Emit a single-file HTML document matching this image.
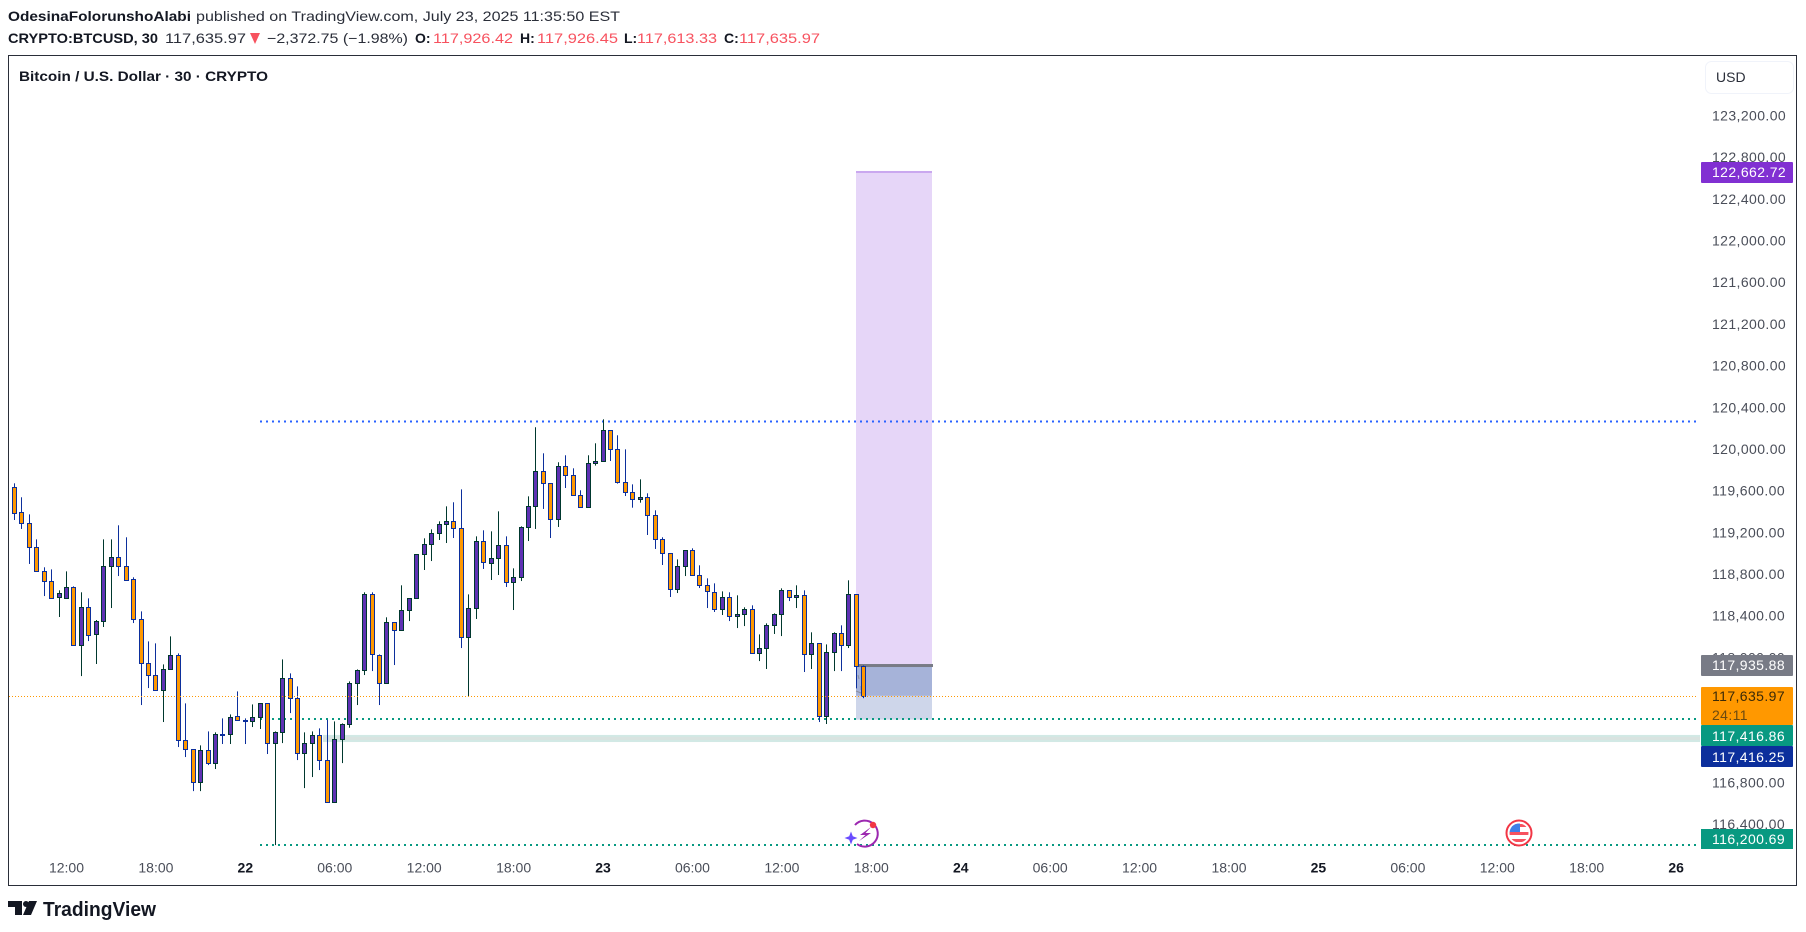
<!DOCTYPE html>
<html lang="en">
<head>
<meta charset="utf-8">
<title>BTCUSD chart</title>
<style>
html,body{margin:0;padding:0;background:#fff;width:1806px;height:932px;overflow:hidden}
svg{display:block;font-family:"Liberation Sans",sans-serif}
</style>
</head>
<body>
<svg id="chart" xmlns="http://www.w3.org/2000/svg" width="1806" height="932" viewBox="0 0 1806 932">
  <rect x="0" y="0" width="1806" height="932" fill="#ffffff"/>

  <g font-size="14" fill="#2a2e39">
    <text x="8" y="21" font-weight="bold" fill="#131722" textLength="183" lengthAdjust="spacingAndGlyphs">OdesinaFolorunshoAlabi</text>
    <text x="196" y="21" textLength="424" lengthAdjust="spacingAndGlyphs">published on TradingView.com, July 23, 2025 11:35:50 EST</text>
  </g>
  <g font-size="14" fill="#2a2e39">
    <text x="8" y="43" font-weight="bold" fill="#131722" textLength="150" lengthAdjust="spacingAndGlyphs">CRYPTO:BTCUSD, 30</text>
    <text x="165" y="43" textLength="81" lengthAdjust="spacingAndGlyphs">117,635.97</text>
    <polygon points="250,33 260,33 255,44" fill="#f7525f"/>
    <text x="267" y="43" textLength="141" lengthAdjust="spacingAndGlyphs">−2,372.75 (−1.98%)</text>
    <text x="415" y="43" font-weight="bold" fill="#131722">O:</text>
    <text x="433" y="43" fill="#f7525f" textLength="80" lengthAdjust="spacingAndGlyphs">117,926.42</text>
    <text x="520" y="43" font-weight="bold" fill="#131722">H:</text>
    <text x="537" y="43" fill="#f7525f" textLength="81" lengthAdjust="spacingAndGlyphs">117,926.45</text>
    <text x="624" y="43" font-weight="bold" fill="#131722">L:</text>
    <text x="637" y="43" fill="#f7525f" textLength="80" lengthAdjust="spacingAndGlyphs">117,613.33</text>
    <text x="724" y="43" font-weight="bold" fill="#131722">C:</text>
    <text x="739" y="43" fill="#f7525f" textLength="81" lengthAdjust="spacingAndGlyphs">117,635.97</text>
  </g>

  <rect x="8.5" y="55.5" width="1788" height="830" fill="none" stroke="#2a2e39" stroke-width="1"/>
  <text x="19" y="81" font-size="14" font-weight="bold" fill="#131722" textLength="249" lengthAdjust="spacingAndGlyphs">Bitcoin / U.S. Dollar · 30 · CRYPTO</text>

  <g id="drawings"></g>
  <g stroke="#8a8f9e" stroke-width="1" fill="none">
    <path d="M858 675 L859 679"/>
    <path d="M861 686 L861 690"/>
    <path d="M856 691 L861 693"/>
  </g>
  <g id="candles"></g>
  <g id="overlay"></g>

  <g id="priceAxis" font-size="14" fill="#4a4e59"></g>
  <g id="timeAxis" font-size="14"></g>

  <g>
    <rect x="1705.5" y="61.5" width="88" height="32" rx="6" fill="#ffffff" stroke="#f0f3fa"/>
    <text x="1716" y="82" font-size="14" fill="#2a2e39">USD</text>
  </g>

  <g font-size="14" fill="#ffffff" letter-spacing="0.4">
    <g>
      <rect x="1701" y="162" width="92" height="21" rx="1" fill="#8130d2"/>
      <text x="1712" y="177">122,662.72</text>
    </g>
    <g>
      <rect x="1701" y="655" width="92" height="21" rx="1" fill="#787b86"/>
      <text x="1712" y="670">117,935.88</text>
    </g>
    <g>
      <rect x="1701" y="687" width="92" height="38" rx="1" fill="#ff9800"/>
      <text x="1712" y="701" fill="#3a2a08">117,635.97</text>
      <text x="1712" y="720" fill="#6b4a10">24:11</text>
    </g>
    <g>
      <rect x="1701" y="725" width="92" height="21" rx="1" fill="#089981"/>
      <text x="1712" y="741">117,416.86</text>
    </g>
    <g>
      <rect x="1701" y="746" width="92" height="21" rx="1" fill="#0c2f9c"/>
      <text x="1712" y="762">117,416.25</text>
    </g>
    <g>
      <rect x="1701" y="829" width="92" height="20" fill="#089981"/>
      <text x="1712" y="844">116,200.69</text>
    </g>
  </g>

  <g>
    <path d="M855 825 A13 13 0 1 1 857 844" fill="none" stroke="#9c27b0" stroke-width="2"/>
    <path d="M871 827 L860 835 L865.5 835 L859 841 L871 833 L865.5 833 Z" fill="#9c27b0"/>
    <circle cx="873" cy="825" r="3.2" fill="#f23645"/>
    <path d="M851 831.5 L852.8 836.2 L857.5 838 L852.8 839.8 L851 844.5 L849.2 839.8 L844.5 838 L849.2 836.2 Z" fill="#6a4cff"/>
  </g>

  <g>
    <circle cx="1519" cy="833" r="12.5" fill="#ffffff" stroke="#f23645" stroke-width="2"/>
    <clipPath id="flagClip"><circle cx="1519" cy="833" r="9.5"/></clipPath>
    <g clip-path="url(#flagClip)">
      <rect x="1509" y="823" width="20" height="20" fill="#ffffff"/>
      <rect x="1509" y="824" width="20" height="3" fill="#f7525f"/>
      <rect x="1509" y="832" width="20" height="3" fill="#f7525f"/>
      <rect x="1509" y="839" width="20" height="3" fill="#f7525f"/>
      <rect x="1509" y="823" width="11" height="9" fill="#3f7fe8"/>
    </g>
  </g>

  <g>
    <path d="M8 901 H22 V915 H15 V907 H8 Z M37 901 L31 915 H23 L29 901 Z" fill="#131722"/>
    <circle cx="26" cy="904" r="3" fill="#131722"/>
    <text x="43" y="916" font-size="20" font-weight="bold" fill="#131722" textLength="113" lengthAdjust="spacingAndGlyphs">TradingView</text>
  </g>
</svg>

<script>
const opens = [119637,119397,119291,119061,118830,118734,118581,118574,118677,118120,118485,118225,118350,118878,118965,118878,118753,118369,117947,117832,117688,117889,118024,117208,117121,116805,117112,116987,117265,117265,117438,117400,117390,117429,117563,117179,117285,117803,117611,117083,117179,117256,117016,116613,117217,117361,117755,117880,118609,118024,117755,118341,118264,118456,118571,118993,119089,119195,119281,119310,119243,118197,118475,119118,118907,118955,119080,118725,118773,119253,119454,119790,119675,119329,119838,119752,119560,119445,119867,119886,120184,120001,119685,119589,119521,119541,119368,119137,119003,118657,118878,119032,118792,118696,118629,118465,118581,118398,118417,118465,118043,118091,118312,118417,118648,118581,118600,118033,118139,117438,118053,118235,118120,118609,117926];
const highs = [119675,119541,119377,119137,118869,118849,118648,118830,118686,118629,118571,118363,119137,119137,119272,119157,118773,118446,118158,118139,117937,118206,118043,117563,117121,117160,117294,117285,117419,117457,117678,117419,117553,117563,117563,117294,117985,117851,117726,117285,117294,117323,117406,117390,117371,117774,117889,118629,118629,118033,118389,118341,118696,118571,118993,119147,119233,119310,119454,119493,119617,118609,119166,119224,119214,119406,119166,118859,119262,119550,120213,119963,119675,119877,119944,119819,119608,119944,120059,120289,120184,120136,120001,119665,119713,119579,119416,119157,119003,118945,119032,119051,118888,118763,118715,118638,118629,118600,118485,118504,118225,118331,118427,118667,118648,118696,118648,118245,118139,118129,118245,118312,118744,118609,117926];
const lows = [119323,119237,118901,118830,118593,118565,118392,118574,118120,117825,118161,117941,118296,118478,118785,118744,118334,117547,117710,117688,117384,117889,117144,117048,116721,116721,116971,116933,117173,117173,117400,117173,117336,117317,117077,116203,117182,117470,117019,116750,116856,116923,116613,116613,116990,117329,117547,117835,117873,117547,117755,117931,118264,118353,118571,118843,118929,119131,119102,119150,118094,117630,118373,118853,118747,118795,118680,118459,118737,119121,119237,119429,119150,119256,119630,119560,119445,119445,119845,119886,119889,119672,119553,119441,119489,119179,119045,118891,118584,118622,118785,118792,118670,118478,118440,118411,118353,118286,118305,118043,117969,117893,118229,118209,118545,118478,117864,117893,117384,117365,117873,117873,118094,117707,117613];
const closes = [119393,119291,119061,118830,118734,118577,118619,118677,118120,118485,118216,118350,118878,118965,118878,118744,118369,117947,117832,117688,117889,118024,117208,117121,116805,117112,116987,117265,117262,117429,117400,117397,117429,117563,117179,117285,117803,117611,117083,117179,117256,117016,116613,117217,117361,117755,117880,118609,118033,117755,118341,118264,118456,118571,118993,119089,119195,119281,119310,119243,118197,118475,119118,118917,118955,119080,118725,118773,119253,119454,119790,119675,119329,119838,119752,119560,119445,119867,119886,120184,120001,119685,119589,119521,119541,119368,119137,119003,118657,118878,119032,118792,118696,118638,118465,118581,118398,118417,118465,118043,118091,118312,118417,118648,118581,118600,118033,118139,117438,118053,118235,118120,118609,117918,117636];

const priceTicks = [123200,122800,122400,122000,121600,121200,120800,120400,120000,119600,119200,118800,118400,118000,117600,117200,116800,116400];
const timeLabels = ["12:00","18:00","22","06:00","12:00","18:00","23","06:00","12:00","18:00","24","06:00","12:00","18:00","25","06:00","12:00","18:00","26"];
const dayLabels = ["22","23","24","25","26"];

const targetPrice = 122662.72;
const entryPrice = 117935.88;
const lastPrice = 117635.97;
const stopPrice = 117416.25;
const resistanceLevel = 120273;
const supportLevel = 117416.86;
const lowLevel = 116200.69;
const bandTop = 117260;
const bandBottom = 117192;

const NS = 'http://www.w3.org/2000/svg';
function yScale(p) { return 116 + (123200 - p) / 400 * 41.68; }
function xScale(i) { return 14.33 + 7.452 * i; }
function formatPrice(p) { return p.toLocaleString('en-US', {minimumFractionDigits: 2, maximumFractionDigits: 2}); }
function make(tag, parent, props) {
  const el = document.createElementNS(NS, tag);
  for (const k in props) el.setAttribute(k, props[k]);
  parent.appendChild(el);
  return el;
}

const drawings = document.getElementById('drawings');
const candles = document.getElementById('candles');
const overlay = document.getElementById('overlay');
const priceAxis = document.getElementById('priceAxis');
const timeAxis = document.getElementById('timeAxis');

const posLeft = 856, posWidth = 76;

const targetBox = make('rect', drawings, {x: posLeft, y: yScale(targetPrice), width: posWidth, height: yScale(entryPrice) - yScale(targetPrice), fill: '#e6d6f8'});


const targetEdge = make('rect', drawings, {x: posLeft, y: yScale(targetPrice) - 1, width: posWidth, height: 2, fill: '#c9a8ef'});


const stopBox = make('rect', drawings, {x: posLeft, y: yScale(entryPrice), width: posWidth, height: yScale(stopPrice) - yScale(entryPrice) + 1, fill: '#ced6ea'});


const pnlBox = make('rect', drawings, {x: posLeft, y: yScale(entryPrice), width: posWidth, height: yScale(lastPrice) - yScale(entryPrice), fill: '#a6b3d9'});


const entryEdge = make('rect', drawings, {x: posLeft, y: yScale(entryPrice) - 0.5, width: posWidth + 1, height: 3, fill: '#787b86'});



const band = make('rect', drawings, {x: 323, y: yScale(bandTop), width: 1377, height: yScale(bandBottom) - yScale(bandTop), fill: '#d2e9e5'});


const bandMid = make('rect', drawings, {x: 323, y: yScale(bandTop) + 2, width: 1377, height: 3, fill: '#d9e3e0'});



const resistanceLine = make('line', drawings, {x1: 260, x2: 1697, y1: Math.round(yScale(resistanceLevel)) + 0.5, y2: Math.round(yScale(resistanceLevel)) + 0.5, stroke: '#2962ff', 'stroke-width': 2, 'stroke-dasharray': '2 4'});


const supportLine = make('line', drawings, {x1: 260, x2: 1697, y1: Math.round(yScale(supportLevel)), y2: Math.round(yScale(supportLevel)), stroke: '#089981', 'stroke-width': 2, 'stroke-dasharray': '2 4'});


const lowLine = make('line', drawings, {x1: 260, x2: 1697, y1: Math.round(yScale(lowLevel)), y2: Math.round(yScale(lowLevel)), stroke: '#089981', 'stroke-width': 2, 'stroke-dasharray': '2 4'});



for (let i = 0; i < opens.length; i++) {
  const down = closes[i] < opens[i];
  const edge = down ? '#0c2f9c' : '#00382e';
  const fill = down ? '#ff9800' : '#5f32b4';
  const px = Math.floor(xScale(i));
  const top = Math.round(yScale(Math.max(opens[i], closes[i])));
  const bottom = Math.round(yScale(Math.min(opens[i], closes[i])));
  const g = make('g', candles, {});
  
  
  const wick = make('rect', g, {x: px, y: yScale(highs[i]), width: 1, height: Math.max(1, yScale(lows[i]) - yScale(highs[i])), fill: edge});
  
  
  const body = make('rect', g, {x: px - 1.5, y: top + 0.5, width: 4, height: Math.max(1, bottom - top), fill: fill, stroke: edge, 'stroke-width': 1});
  
  
}

const lastLine = make('line', overlay, {x1: 9, x2: 1697, y1: Math.round(yScale(lastPrice)) + 0.5, y2: Math.round(yScale(lastPrice)) + 0.5, stroke: '#ff9800', 'stroke-width': 1, 'stroke-dasharray': '1 2'});



priceTicks.forEach(function (p) {
  const t = make('text', priceAxis, {x: 1712, y: yScale(p) + 4.5, 'letter-spacing': '0.4'});
  
  
  t.textContent = formatPrice(p);
});

timeLabels.forEach(function (label, i) {
  const isDay = dayLabels.indexOf(label) >= 0;
  const t = make('text', timeAxis, {x: xScale(7 + i * 12), y: 872.5, 'text-anchor': 'middle', fill: isDay ? '#131722' : '#4a4e59', 'font-weight': isDay ? 'bold' : 'normal'});
  
  
  t.textContent = label;
});
</script>
</body>
</html>
